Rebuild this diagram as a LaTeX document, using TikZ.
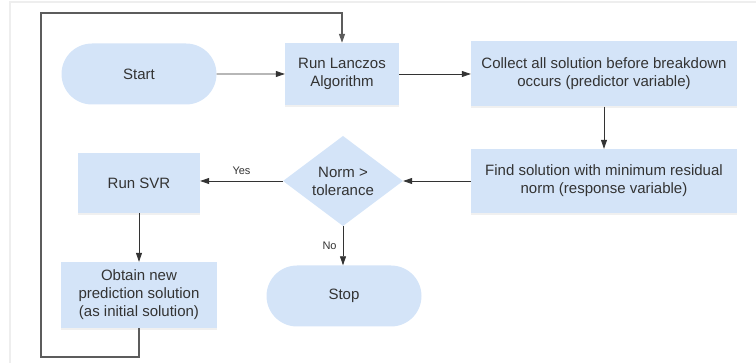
\documentclass[tikz,border=0pt]{standalone}
\usepackage{fontspec}
\setmainfont{Liberation Sans}
\usetikzlibrary{arrows.meta,shapes.geometric,shapes.misc,shadows}
\definecolor{boxblue}{RGB}{212,228,248}
\definecolor{txt}{RGB}{51,51,51}
\definecolor{framegray}{RGB}{238,238,238}
\begin{document}
\begin{tikzpicture}[x=1pt,y=-1pt,
  every node/.style={text=txt,font=\fontsize{15}{18}\selectfont,align=center,inner sep=0pt},
  pill/.style={rounded rectangle,fill=boxblue,minimum width=155pt,minimum height=61pt},
  box/.style={rectangle,fill=boxblue,drop shadow={opacity=0.12,shadow xshift=0pt,shadow yshift=-2pt}},
  test/.style={diamond,fill=boxblue,minimum width=120pt,minimum height=88pt},
  arr/.style={draw=txt,line width=0.8pt,-{Triangle[length=9pt,width=6pt]}},
  loopline/.style={draw=txt!80,line width=1.3pt,-{Triangle[length=9pt,width=6pt]}},
  lbl/.style={font=\fontsize{11}{13}\selectfont}]
\useasboundingbox (0,0) rectangle (756,363);
\draw[framegray,line width=1.5pt] (10,363) -- (10,2) -- (756,2);
% nodes
\node[pill] (start) at (139,74) {Start};
\node[box,minimum width=114pt,minimum height=62pt] (lanczos) at (342,74) {Run Lanczos\\Algorithm};
\node[box,minimum width=266pt,minimum height=65pt] (collect) at (604,74) {Collect all solution before breakdown\\occurs (predictor variable)};
\node[box,minimum width=266pt,minimum height=64pt] (find) at (604,181) {Find solution with minimum residual\\norm (response variable)};
\node[test] (norm) at (343,181) {Norm >\\tolerance};
\node[box,minimum width=122pt,minimum height=60pt] (svr) at (139,183) {Run SVR};
\node[box,minimum width=156pt,minimum height=66pt] (obtain) at (139,295) {Obtain new\\prediction solution\\(as initial solution)};
\node[pill] (stop) at (344,296) {Stop};
\coordinate (loopbl) at (41,357);
\coordinate (looptl) at (41,13);
% connectors
\draw[arr] (start) -- (lanczos);
\draw[arr] (lanczos) -- (collect);
\draw[arr] (collect) -- (find);
\draw[arr] (find) -- (norm);
\draw[arr] (norm.west) -- (svr.east |- norm.west) node[lbl,midway,above=6pt] {Yes};
\draw[arr] (norm.south) -- (stop.north -| norm.south) node[lbl,midway,left=6pt] {No};
\draw[arr] (svr) -- (obtain);
\draw[loopline] (obtain.south) |- (loopbl) -- (looptl) -| (lanczos.north);
\end{tikzpicture}
\end{document}
